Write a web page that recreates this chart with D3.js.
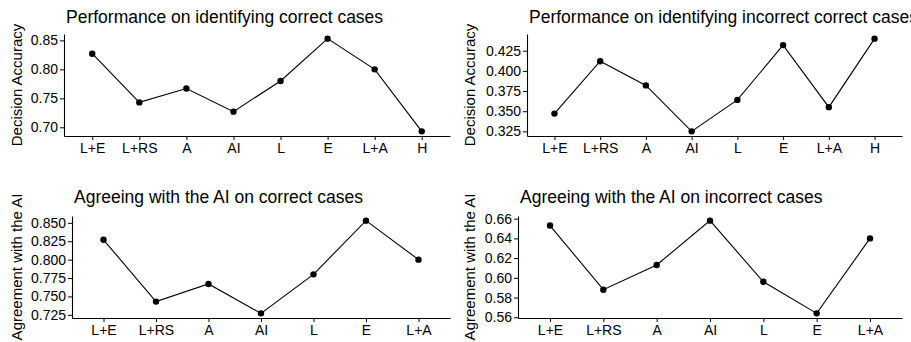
<!DOCTYPE html>
<html>
<head>
<meta charset="utf-8">
<script src="https://cdn.jsdelivr.net/npm/d3@7"></script>
<style>
  body { margin: 0; background: #fff; }
  text { font-family: "Liberation Sans", Arial, sans-serif; fill: #000; }
</style>
</head>
<body>
<div id="vis"></div>
<script>
// chart size
var width = 911;
var height = 342;

// categories
var cats8 = ["L+E", "L+RS", "A", "AI", "L", "E", "L+A", "H"];
var cats7 = ["L+E", "L+RS", "A", "AI", "L", "E", "L+A"];

// series values
var correctAcc = [0.827, 0.743, 0.767, 0.727, 0.780, 0.853, 0.800, 0.693];
var incorrectAcc = [0.347, 0.412, 0.382, 0.325, 0.364, 0.432, 0.355, 0.440];
var correctAgree = [0.827, 0.743, 0.767, 0.727, 0.780, 0.853, 0.800];
var incorrectAgree = [0.653, 0.588, 0.613, 0.658, 0.596, 0.564, 0.640];

// tick labels
var ticks1 = [0.70, 0.75, 0.80, 0.85];
var ticks2 = [0.325, 0.350, 0.375, 0.400, 0.425];
var ticks3 = [0.725, 0.750, 0.775, 0.800, 0.825, 0.850];
var ticks4 = [0.56, 0.58, 0.60, 0.62, 0.64, 0.66];

// panels: plot area boxes and text
var panels = [
  {title: "Performance on identifying correct cases", ylab: "Decision Accuracy",
   cats: cats8, vals: correctAcc, ticks: ticks1, fmt: ".2f",
   x0: 64, x1: 450, y0: 34, y1: 136, titleY: 22.7, ylabX: 16.7},
  {title: "Performance on identifying incorrect correct cases", ylab: "Decision Accuracy",
   cats: cats8, vals: incorrectAcc, ticks: ticks2, fmt: ".3f",
   x0: 527, x1: 902, y0: 34, y1: 136, titleY: 22.7, ylabX: 470},
  {title: "Agreeing with the AI on correct cases", ylab: "Agreement with the AI",
   cats: cats7, vals: correctAgree, ticks: ticks3, fmt: ".3f",
   x0: 72, x1: 450, y0: 216, y1: 318, titleY: 203.3, ylabX: 16.7},
  {title: "Agreeing with the AI on incorrect cases", ylab: "Agreement with the AI",
   cats: cats7, vals: incorrectAgree, ticks: ticks4, fmt: ".2f",
   x0: 518, x1: 902, y0: 216, y1: 318, titleY: 203.3, ylabX: 470}
];

var svg = d3.select("#vis").append("svg")
    .attr("width", width)
    .attr("height", height);

panels.forEach(function(p) {
    var g = svg.append("g");

    // x scale like ggplot discrete (0.6 expansion)
    var x = d3.scalePoint()
        .domain(p.cats)
        .range([p.x0, p.x1])
        .padding(0.6);

    // y scale with 5% expansion
    var ext = d3.extent(p.vals);
    var pad = (ext[1] - ext[0]) * 0.05;
    var y = d3.scaleLinear()
        .domain([ext[0] - pad, ext[1] + pad])
        .range([p.y1, p.y0]);

    // axes
    var yAxis = d3.axisLeft(y)
        .tickValues(p.ticks)
        .tickFormat(d3.format(p.fmt))
        .tickSizeInner(4)
        .tickSizeOuter(0)
        .tickPadding(2);
    var xAxis = d3.axisBottom(x)
        .tickSizeInner(4)
        .tickSizeOuter(0)
        .tickPadding(3);

    g.append("g")
        .attr("transform", "translate(" + p.x0 + ",0)")
        .call(yAxis)
        .call(function(a) {
            a.selectAll("text").style("font-size", "14px").attr("fill", "#111");
            a.select(".domain").attr("stroke", "#000").attr("stroke-width", 1.1);
        });

    g.append("g")
        .attr("transform", "translate(0," + p.y1 + ")")
        .call(xAxis)
        .call(function(a) {
            a.selectAll("text").style("font-size", "14px").attr("fill", "#111");
            a.select(".domain").attr("stroke", "#000").attr("stroke-width", 1.1);
        });

    // line
    var line = d3.line()
        .x(function(d, i) { return x(p.cats[i]); })
        .y(function(d) { return y(d); });

    g.append("path")
        .datum(p.vals)
        .attr("d", line)
        .attr("fill", "none")
        .attr("stroke", "#000")
        .attr("stroke-width", 1.1);

    // points
    g.selectAll("circle")
        .data(p.vals).enter()
        .append("circle")
        .attr("cx", function(d, i) { return x(p.cats[i]); })
        .attr("cy", function(d) { return y(d); })
        .attr("r", 3.2)
        .attr("fill", "#000");

    // title
    g.append("text")
        .attr("x", p.x0 + 2)
        .attr("y", p.titleY)
        .style("font-size", "17.5px")
        .text(p.title);

    // y axis title
    g.append("text")
        .attr("transform", "translate(" + (p.ylabX + 5) + "," + ((p.y0 + p.y1) / 2) + ") rotate(-90)")
        .attr("text-anchor", "middle")
        .style("font-size", "15px")
        .text(p.ylab);
});
</script>
</body>
</html>
